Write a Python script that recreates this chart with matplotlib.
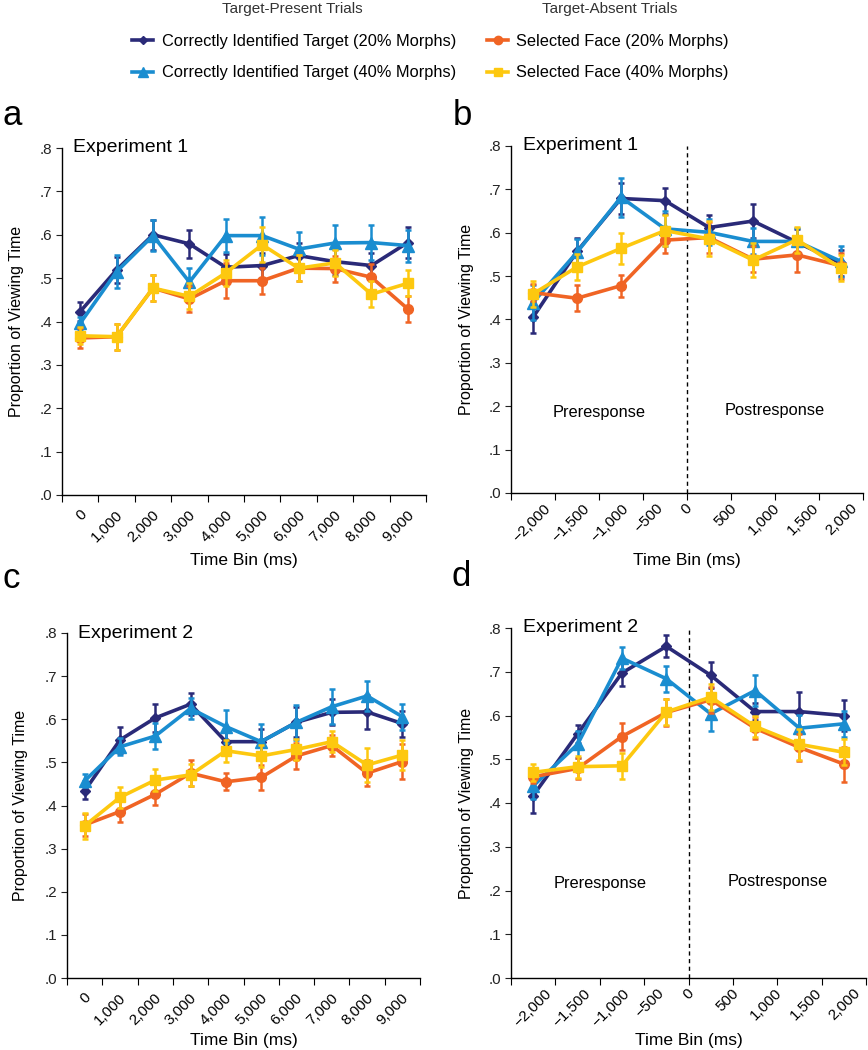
import matplotlib
matplotlib.use('Agg')
import matplotlib.pyplot as plt
from matplotlib.lines import Line2D
import numpy as np

plt.rcParams['font.family'] = ['Liberation Sans', 'DejaVu Sans']

# ---- data ----
bin_labels_ab = ['0', '1,000', '2,000', '3,000', '4,000', '5,000', '6,000', '7,000', '8,000', '9,000']
resp_ticks = [-2000, -1500, -1000, -500, 0, 500, 1000, 1500, 2000]
resp_labels = ['\u22122,000', '\u22121,500', '\u22121,000', '\u2212500', '0', '500', '1,000', '1,500', '2,000']
resp_bins = [-1750, -1250, -750, -250, 250, 750, 1250, 1750]

series_names = ['Correctly Identified Target (20% Morphs)', 'Correctly Identified Target (40% Morphs)',
                'Selected Face (20% Morphs)', 'Selected Face (40% Morphs)']

# panel a: experiment 1, time from trial onset
a_t20 = [0.423, 0.519, 0.600, 0.579, 0.525, 0.529, 0.552, 0.538, 0.529, 0.582]
a_t40 = [0.396, 0.515, 0.598, 0.491, 0.598, 0.598, 0.567, 0.581, 0.582, 0.575]
a_f20 = [0.362, 0.365, 0.477, 0.452, 0.494, 0.494, 0.523, 0.522, 0.502, 0.429]
a_f40 = [0.367, 0.365, 0.477, 0.458, 0.512, 0.577, 0.523, 0.535, 0.463, 0.488]
a_t20_err = [0.022, 0.030, 0.035, 0.033, 0.030, 0.030, 0.030, 0.030, 0.030, 0.035]
a_t40_err = [0.015, 0.038, 0.035, 0.033, 0.038, 0.044, 0.040, 0.042, 0.040, 0.037]
a_f20_err = [0.022, 0.030, 0.030, 0.030, 0.040, 0.030, 0.030, 0.030, 0.030, 0.030]
a_f40_err = [0.020, 0.030, 0.030, 0.030, 0.030, 0.040, 0.030, 0.030, 0.030, 0.030]

# panel b: experiment 1, time relative to response
b_t20 = [0.405, 0.557, 0.679, 0.674, 0.612, 0.627, 0.578, 0.530]
b_t40 = [0.439, 0.555, 0.682, 0.609, 0.601, 0.580, 0.580, 0.534]
b_f20 = [0.462, 0.449, 0.478, 0.583, 0.589, 0.539, 0.549, 0.524]
b_f40 = [0.459, 0.521, 0.564, 0.605, 0.586, 0.537, 0.584, 0.518]
b_t20_err = [0.035, 0.030, 0.035, 0.030, 0.030, 0.040, 0.030, 0.030]
b_t40_err = [0.040, 0.030, 0.045, 0.040, 0.030, 0.030, 0.030, 0.035]
b_f20_err = [0.020, 0.030, 0.025, 0.030, 0.035, 0.030, 0.040, 0.030]
b_f40_err = [0.030, 0.030, 0.035, 0.035, 0.040, 0.040, 0.030, 0.030]

# panel c: experiment 2, time from trial onset
c_t20 = [0.434, 0.552, 0.603, 0.635, 0.548, 0.548, 0.593, 0.616, 0.617, 0.590]
c_t40 = [0.457, 0.536, 0.561, 0.625, 0.583, 0.548, 0.593, 0.629, 0.654, 0.606]
c_f20 = [0.355, 0.386, 0.426, 0.475, 0.455, 0.465, 0.515, 0.539, 0.475, 0.502]
c_f40 = [0.353, 0.419, 0.459, 0.471, 0.527, 0.515, 0.530, 0.548, 0.494, 0.517]
c_t20_err = [0.020, 0.030, 0.033, 0.025, 0.030, 0.030, 0.035, 0.030, 0.040, 0.030]
c_t40_err = [0.015, 0.020, 0.030, 0.025, 0.038, 0.040, 0.040, 0.040, 0.035, 0.030]
c_f20_err = [0.025, 0.025, 0.025, 0.030, 0.020, 0.030, 0.030, 0.025, 0.030, 0.040]
c_f40_err = [0.030, 0.025, 0.025, 0.025, 0.025, 0.025, 0.025, 0.025, 0.040, 0.035]

# panel d: experiment 2, time relative to response
d_t20 = [0.417, 0.558, 0.697, 0.758, 0.692, 0.609, 0.609, 0.600]
d_t40 = [0.439, 0.534, 0.731, 0.684, 0.604, 0.657, 0.571, 0.581]
d_f20 = [0.460, 0.479, 0.552, 0.607, 0.636, 0.571, 0.527, 0.489]
d_f40 = [0.470, 0.483, 0.485, 0.608, 0.642, 0.575, 0.534, 0.516]
d_t20_err = [0.040, 0.020, 0.030, 0.025, 0.030, 0.020, 0.045, 0.035]
d_t40_err = [0.030, 0.030, 0.025, 0.030, 0.040, 0.035, 0.030, 0.030]
d_f20_err = [0.015, 0.025, 0.030, 0.030, 0.030, 0.025, 0.030, 0.040]
d_f40_err = [0.020, 0.025, 0.030, 0.030, 0.030, 0.025, 0.035, 0.030]

COLORS = ['#2a2a78', '#1a8dd0', '#f06424', '#fdc80f']
MARKERS = ['D', '^', 'o', 's']
MSIZES = [5, 8, 7, 7]

W, H = 868, 1050
fig = plt.figure(figsize=(W / 100, H / 100), dpi=100)

# axes boxes in pixels: left, right, top, bottom
boxes = {'a': (62, 426, 148, 495), 'b': (511, 863, 146, 493),
         'c': (67, 420, 633, 978), 'd': (511, 866, 628, 978)}
axes = {}
for k, (l, r, t, b) in boxes.items():
    axes[k] = fig.add_axes([l / W, 1 - b / H, (r - l) / W, (b - t) / H])


def draw_series(ax, x, ys, errs):
    for i in range(4):
        ax.errorbar(x, ys[i], yerr=errs[i], color=COLORS[i], marker=MARKERS[i],
                    markersize=MSIZES[i], lw=2.6, elinewidth=1.8, capsize=2, capthick=1.8,
                    zorder=3 + i, clip_on=False)


def style_axes(ax, box, ylab_x, xlab_y):
    l, r, t, b = box
    for s in ['top', 'right']:
        ax.spines[s].set_visible(False)
    for s in ['left', 'bottom']:
        ax.spines[s].set_linewidth(1.0)
    ax.xaxis.remove_overlapping_locs = False
    ax.set_ylim(0, 0.8)
    ax.set_yticks(np.arange(0, 0.81, 0.1))
    ax.set_yticklabels(['.%d' % k for k in range(9)])
    ax.tick_params(axis='y', direction='out', length=4, labelsize=11, pad=3, colors='#222222')
    ax.set_ylabel('Proportion of Viewing Time', fontsize=11.5, va='center')
    ax.yaxis.set_label_coords((ylab_x - l) / (r - l), 0.5)
    ax.set_xlabel('Time Bin (ms)', fontsize=12.5, va='center')
    ax.xaxis.set_label_coords(0.5, -(xlab_y - b) / (b - t))


def onset_panel(ax, box, ys, errs, title, ylab_x, xlab_y):
    x = np.arange(10) + 0.5
    draw_series(ax, x, ys, errs)
    style_axes(ax, box, ylab_x, xlab_y)
    ax.set_xlim(0, 10)
    ax.set_xticks(np.arange(11))
    ax.set_xticklabels([])
    ax.set_xticks(x + 0.25, minor=True)
    ax.set_xticklabels(bin_labels_ab, minor=True, rotation=45, ha='right', fontsize=11)
    ax.tick_params(axis='x', which='major', direction='out', length=5)
    ax.tick_params(axis='x', which='minor', length=0, pad=9)
    ax.text(0.3, 0.8, title, fontsize=14, va='center', ha='left')


def response_panel(ax, box, ys, errs, title, pre_y, ylab_x, xlab_y):
    draw_series(ax, resp_bins, ys, errs)
    style_axes(ax, box, ylab_x, xlab_y)
    ax.set_xlim(-2000, 2000)
    ax.set_xticks(resp_ticks)
    ax.set_xticklabels([])
    # tick labels sit a bit closer to the centre than the ticks themselves
    ax.set_xticks(np.array(resp_ticks) * 0.88, minor=True)
    ax.set_xticklabels(resp_labels, minor=True, rotation=45, ha='center', fontsize=11)
    ax.tick_params(axis='x', which='major', direction='out', length=5)
    ax.tick_params(axis='x', which='minor', length=0, pad=6)
    ax.axvline(0, color='black', lw=1.0, ls=(0, (3, 2.5)), zorder=2)
    ax.text(-1000, pre_y, 'Preresponse', fontsize=11.8, ha='center', va='center')
    ax.text(1000, pre_y + 0.006, 'Postresponse', fontsize=11.8, ha='center', va='center')
    ax.text(-1864, 0.8, title, fontsize=14, va='center', ha='left')


onset_panel(axes['a'], boxes['a'], [a_t20, a_t40, a_f20, a_f40],
            [a_t20_err, a_t40_err, a_f20_err, a_f40_err], 'Experiment 1', 17, 560)
response_panel(axes['b'], boxes['b'], [b_t20, b_t40, b_f20, b_f40],
               [b_t20_err, b_t40_err, b_f20_err, b_f40_err], 'Experiment 1', 0.185, 467, 561)
onset_panel(axes['c'], boxes['c'], [c_t20, c_t40, c_f20, c_f40],
            [c_t20_err, c_t40_err, c_f20_err, c_f40_err], 'Experiment 2', 21, 1040)
response_panel(axes['d'], boxes['d'], [d_t20, d_t40, d_f20, d_f40],
               [d_t20_err, d_t40_err, d_f20_err, d_f40_err], 'Experiment 2', 0.215, 467, 1040)

# panel letters
for letter, (px, py) in zip('abcd', [(2, 115), (453, 115), (3, 578), (452, 577)]):
    fig.text(px / W, 1 - py / H, letter, fontsize=25, ha='left', va='center')

# legend
fig.text(292 / W, 1 - 9 / H, 'Target-Present Trials', fontsize=11, ha='center', va='center', color='#333333')
fig.text(610 / W, 1 - 9 / H, 'Target-Absent Trials', fontsize=11, ha='center', va='center', color='#333333')
handles = [Line2D([0], [0], color=COLORS[i], marker=MARKERS[i], markersize=MSIZES[i] - 1, lw=2.6)
           for i in range(4)]
fig.legend(handles, series_names, ncol=2, loc='upper left', bbox_to_anchor=(132 / W, 1 - 34 / H),
           frameon=False, fontsize=11.8, handlelength=1.3, handletextpad=0.5, columnspacing=1.9,
           labelspacing=1.0, borderaxespad=0, borderpad=0)

fig.savefig('out.png', dpi=100)
